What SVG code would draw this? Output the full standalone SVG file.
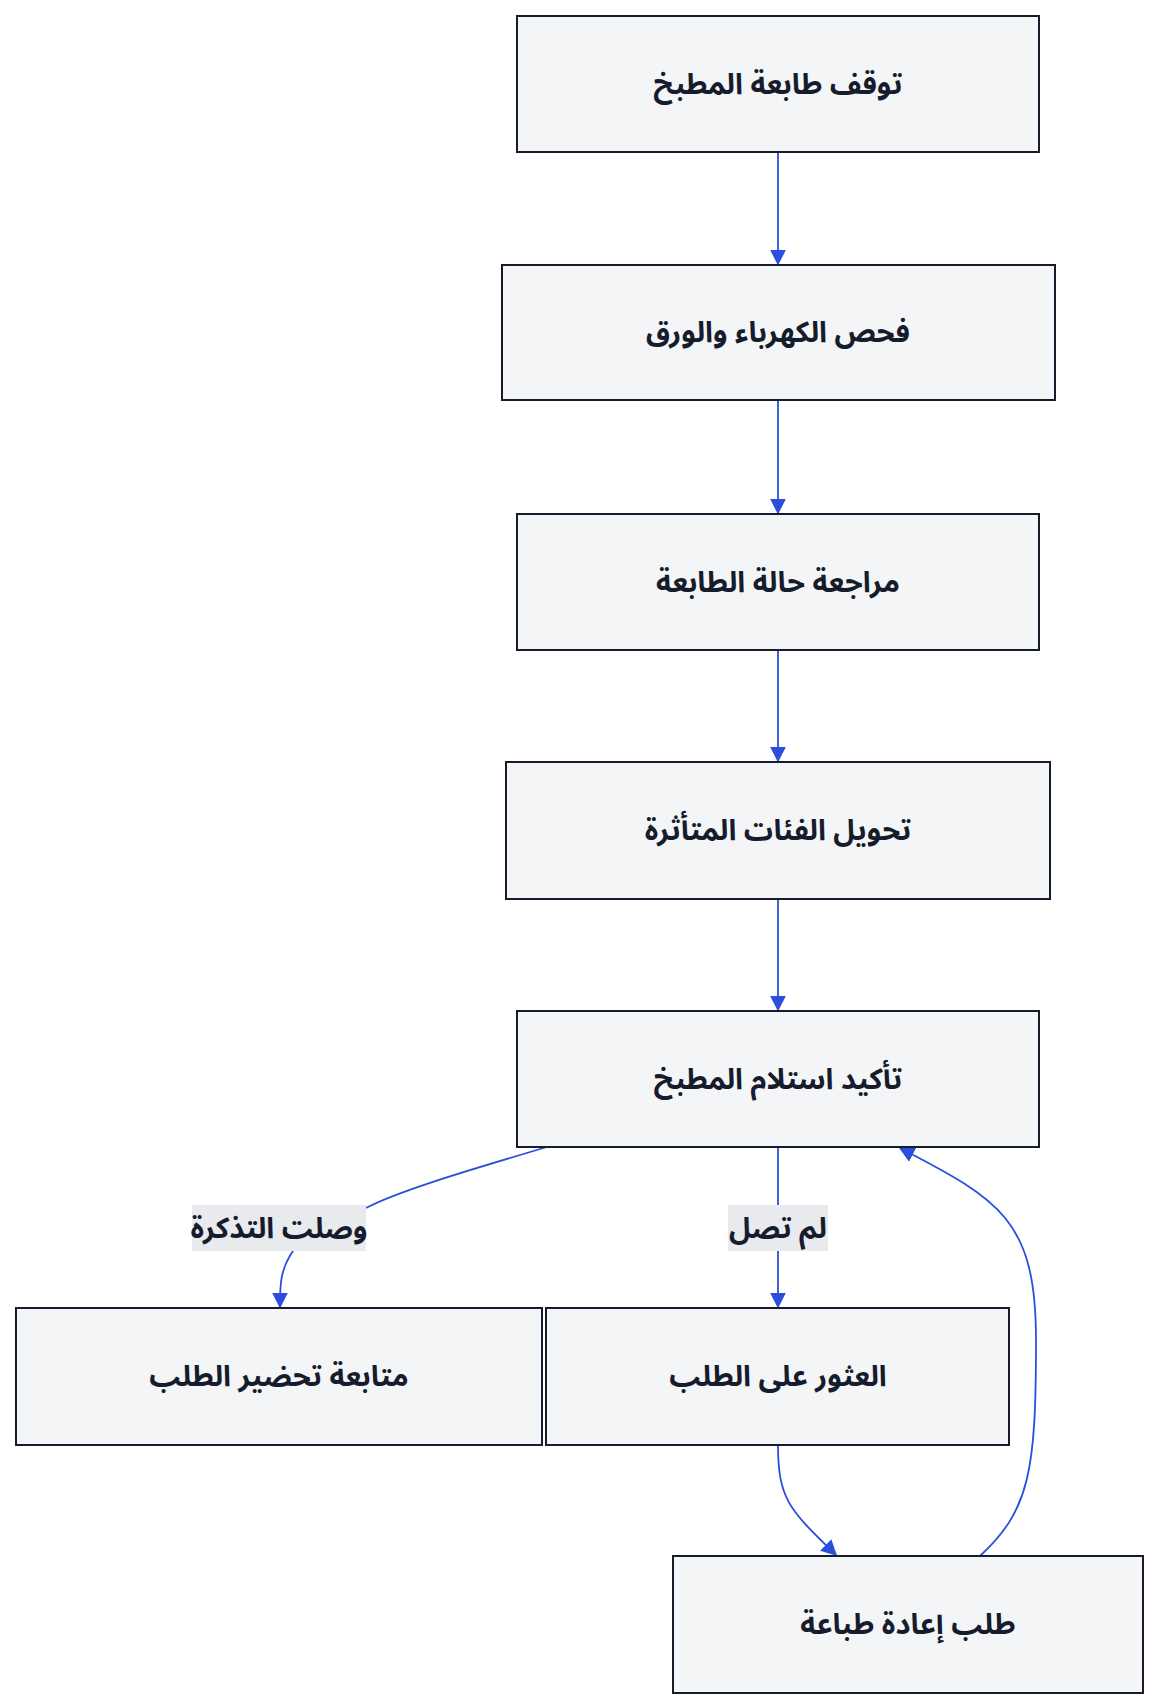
<svg xmlns="http://www.w3.org/2000/svg" width="1156" height="1704" viewBox="0 0 1156 1704">
<style>
.n{fill:#f4f5f7;stroke:#161c2c;stroke-width:2}
.t{font-family:"Noto Sans Arabic","Noto Sans","DejaVu Sans",sans-serif;font-weight:bold;font-size:29px;fill:#161c2c;text-anchor:middle;dominant-baseline:central}
.e{fill:none;stroke:#2a4fdc;stroke-width:1.8}
.lb{fill:#e8eaee}
</style>
<defs>
<marker id="b" viewBox="0 0 10 10" refX="9" refY="5" markerWidth="16" markerHeight="16" orient="auto" markerUnits="userSpaceOnUse"><path d="M0,0L10,5L0,10z" fill="#2a4fdc"/></marker></defs>
<rect x="0" y="0" width="1156" height="1704" fill="#fff"/>
<g id="edges">
<path class="e" d="M778,152V264" marker-end="url(#b)"/>
<path class="e" d="M778,400V513" marker-end="url(#b)"/>
<path class="e" d="M778,650V761" marker-end="url(#b)"/>
<path class="e" d="M778,899V1010" marker-end="url(#b)"/>
<path class="e" d="M547,1147C480,1167 400,1190 366,1208"/>
<path class="e" d="M293,1251C280,1270 280,1285 280,1307" marker-end="url(#b)"/>
<path class="e" d="M778,1147V1205M778,1251V1307" marker-end="url(#b)"/>
<path class="e" d="M778,1445C778,1500 790,1510 836,1555" marker-end="url(#b)"/>
<path class="e" d="M980,1556C1030,1510 1036,1470 1036,1340C1036,1220 1000,1200 900,1148" marker-end="url(#b)"/>
<rect class="lb" x="192" y="1205" width="174" height="46"/>
<text class="t" x="279" y="1228">وصلت التذكرة</text>
<rect class="lb" x="728" y="1205" width="100" height="46"/>
<text class="t" x="778" y="1228">لم تصل</text>
</g>
<g id="n1"><rect class="n" x="517" y="16" width="522" height="136"/><text class="t" x="778" y="84">توقف طابعة المطبخ</text></g>
<g id="n2"><rect class="n" x="502" y="265" width="553" height="135"/><text class="t" x="778" y="332">فحص الكهرباء والورق</text></g>
<g id="n3"><rect class="n" x="517" y="514" width="522" height="136"/><text class="t" x="778" y="582">مراجعة حالة الطابعة</text></g>
<g id="n4"><rect class="n" x="506" y="762" width="544" height="137"/><text class="t" x="778" y="830">تحويل الفئات المتأثرة</text></g>
<g id="n5"><rect class="n" x="517" y="1011" width="522" height="136"/><text class="t" x="778" y="1079">تأكيد استلام المطبخ</text></g>
<g id="n6"><rect class="n" x="16" y="1308" width="526" height="137"/><text class="t" x="279" y="1376">متابعة تحضير الطلب</text></g>
<g id="n7"><rect class="n" x="546" y="1308" width="463" height="137"/><text class="t" x="778" y="1376">العثور على الطلب</text></g>
<g id="n8"><rect class="n" x="673" y="1556" width="470" height="137"/><text class="t" x="908" y="1624">طلب إعادة طباعة</text></g>
</svg>
